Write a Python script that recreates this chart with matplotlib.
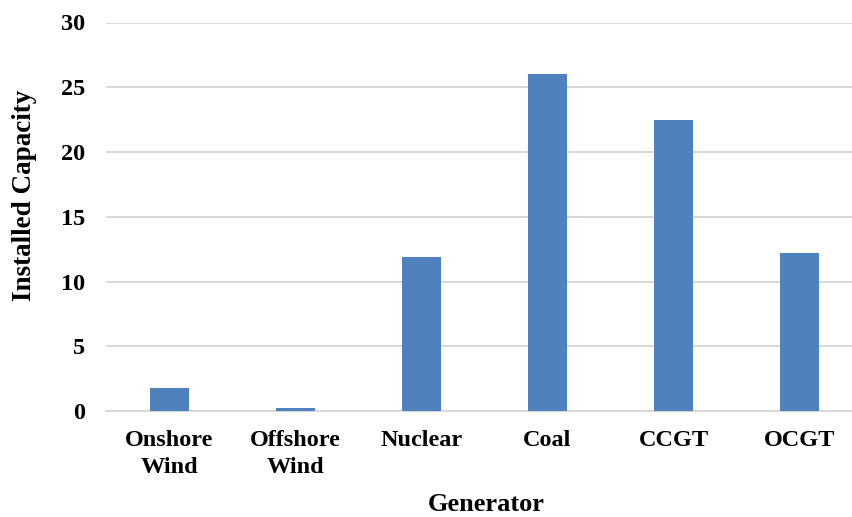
import numpy as np
import matplotlib.pyplot as plt

# Installed capacity by generator type
generators = ['Onshore\nWind', 'Offshore\nWind', 'Nuclear', 'Coal', 'CCGT', 'OCGT']
capacity = [1.8, 0.2, 11.9, 26.0, 22.5, 12.2]
y_ticks = [0, 5, 10, 15, 20, 25, 30]

plt.rcParams['font.family'] = ['Liberation Serif', 'DejaVu Serif']
plt.rcParams['font.weight'] = 'bold'

fig = plt.figure(figsize=(8.53, 5.17), dpi=100)
ax = fig.add_axes([106 / 853, (517 - 411) / 517, (862.6 - 106) / 853, (411 - 22.5) / 517])

x = np.arange(len(generators))
ax.bar(x, capacity, width=0.31, color='#4f81bd', zorder=3)

ax.set_xlim(-0.5, len(generators) - 0.5)
ax.set_ylim(0, 30)
ax.set_yticks(y_ticks)
ax.set_xticks(x)
ax.set_xticklabels(generators, fontsize=17.5, fontweight='bold', linespacing=1.33)
ax.tick_params(axis='y', length=0, pad=15, labelsize=17.5)
ax.tick_params(axis='x', length=0, pad=14)

ax.grid(axis='y', color='#d9d9d9', linewidth=1.5, zorder=0)
for s in ['top', 'right', 'left']:
    ax.spines[s].set_visible(False)
ax.spines['bottom'].set_color('#d9d9d9')
ax.spines['bottom'].set_linewidth(1.5)

ax.set_ylabel('Installed Capacity', fontsize=19.5, fontweight='bold')
ax.set_xlabel('Generator', fontsize=19, fontweight='bold')
ax.yaxis.set_label_coords(-0.091, 0.556)
ax.xaxis.set_label_coords(0.502, -0.21)

fig.savefig('out.png', dpi=100)
